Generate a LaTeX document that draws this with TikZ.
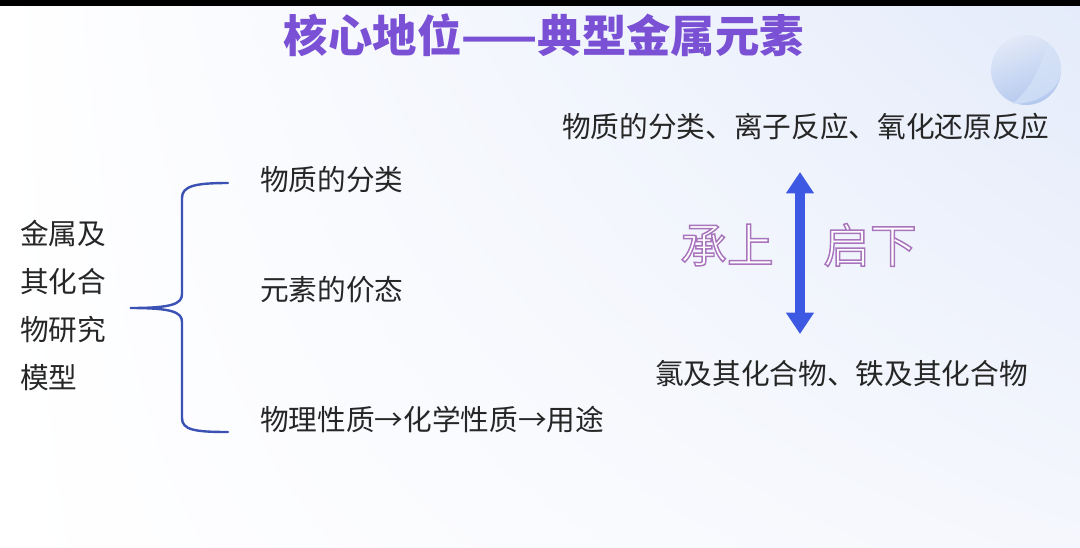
\documentclass[tikz,border=0pt]{standalone}
\usepackage{fontspec}
\setmainfont{Noto Sans CJK SC}
\usetikzlibrary{arrows.meta,shadings}
\definecolor{titlepurple}{HTML}{7A50D4}
\definecolor{bracecol}{HTML}{3B52B4}
\definecolor{arrowcol}{HTML}{3D58E2}
\definecolor{txt}{HTML}{262626}
\definecolor{bgblue}{HTML}{E4EBFA}
\definecolor{bgmid}{HTML}{F5F7FD}
\definecolor{sphtop}{HTML}{E2E9F8}
\definecolor{sphbot}{HTML}{B3C8EE}
\definecolor{sphlight}{HTML}{D6E3F8}
\newcommand{\outlinetext}[1]{\special{pdf:code 2 Tr 1.1 w 0.66 0.46 0.74 RG}#1\special{pdf:code 0 Tr}}
\tikzset{
  body/.style={font=\fontsize{21.5pt}{26pt}\selectfont, text=txt, inner sep=0pt},
  item/.style={body, anchor=west},
  outl/.style={font=\fontsize{35pt}{40pt}\selectfont, text=white, inner sep=0pt},
}
\begin{document}
\begin{tikzpicture}[x=0.75pt,y=-0.75pt]
\useasboundingbox (0,0) rectangle (1080,547);
% background
\shade[upper left=white, upper right=bgblue, lower left=white, lower right=bgmid] (0,0) rectangle (1080,547);
\fill[black] (0,0) rectangle (1080,6);
% decorative sphere
\shade[top color=sphtop, bottom color=sphbot, shading angle=20] (1026,70) circle (35);
\fill[sphlight, opacity=0.7] (1048,43) .. controls (1040,70) and (1030,90) .. (1012,104)
  .. controls (1040,104) and (1061,88) .. (1061,70) .. controls (1061,58) and (1056,49) .. (1048,43) -- cycle;
% title
\node[font=\fontsize{33.3pt}{36pt}\selectfont\bfseries, text=titlepurple, inner sep=0pt] (title) at (544,35) {核心地位——典型金属元素};
% left block
\node[body, anchor=west, align=left, font=\fontsize{21.5pt}{36pt}\selectfont] (model) at (20,305) {金属及\\其化合\\物研究\\模型};
% brace
\coordinate (bl) at (130,308);
\node[item] (i1) at (260,180) {物质的分类};
\node[item] (i2) at (260,290) {元素的价态};
\node[item] (i3) at (260,420) {物理性质→化学性质→用途};
\draw[bracecol, line width=2.4pt*0.75, line cap=round]
  (228,183) .. controls (195,183) and (182,186) .. (182,198) -- (182,294)
  .. controls (182,304) and (172,308) .. (bl)
  .. controls (172,308) and (182,312) .. (182,322) -- (182,418)
  .. controls (182,430) and (195,432) .. (228,432);
% right side
\node[item] (top) at (562,127) {物质的分类、离子反应、氧化还原反应};
\node[item] (bot) at (655,374) {氯及其化合物、铁及其化合物};
\coordinate (au) at (800,172);
\coordinate (ad) at (800,334);
\draw[arrowcol, line width=8pt, {Triangle[length=16pt,width=20pt]}-{Triangle[length=16pt,width=20pt]}] (au) -- (ad);
\node[outl] (cs) at (727,245) {\outlinetext{承上}};
\node[outl] (qx) at (870,245) {\outlinetext{启下}};
\end{tikzpicture}
\end{document}
